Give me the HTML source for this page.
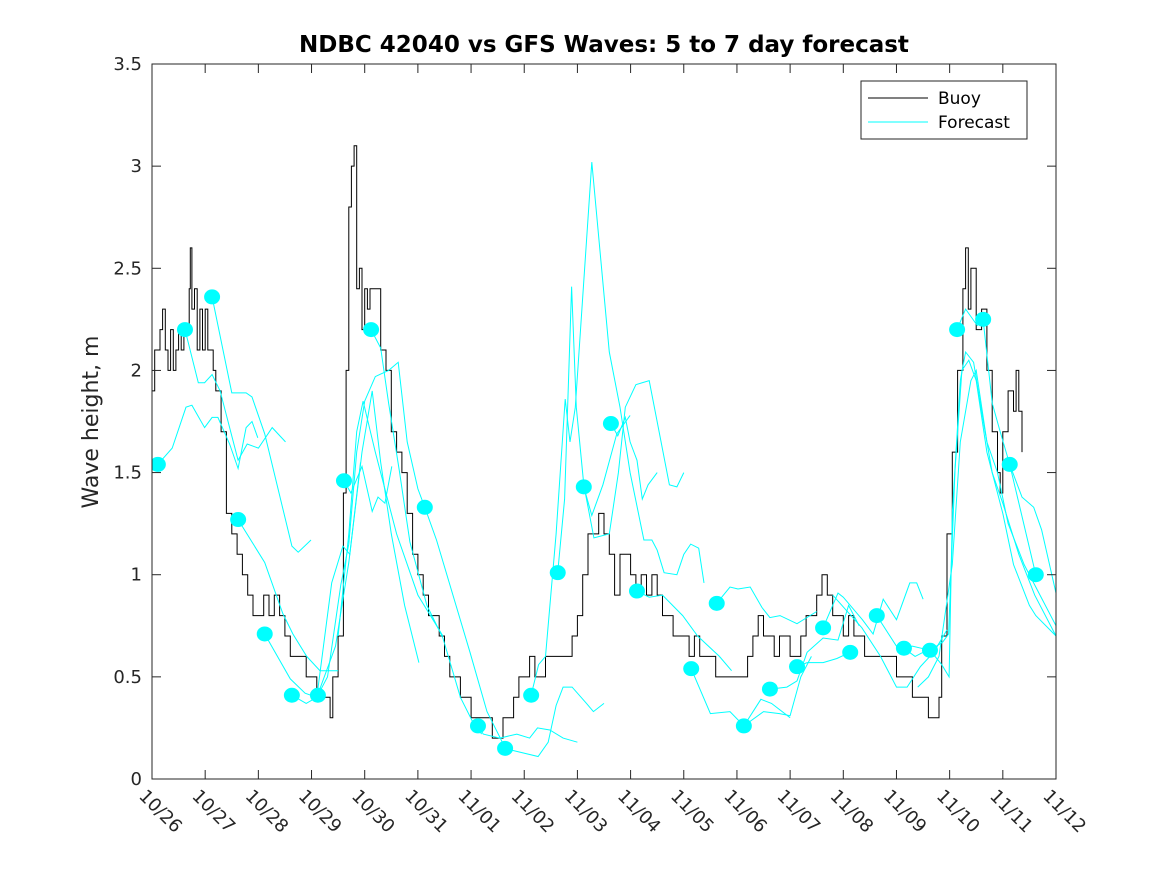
<!DOCTYPE html>
<html><head><meta charset="utf-8">
<style>
html,body{margin:0;padding:0;background:#fff;}
svg{display:block;font-family:"DejaVu Sans","Liberation Sans",sans-serif;}
</style></head>
<body>
<svg id="chart" width="1167" height="875" viewBox="0 0 1167 875"></svg>
<script>
const yTicks=[0,0.5,1,1.5,2,2.5,3,3.5];
const yTickLabels=["0","0.5","1","1.5","2","2.5","3","3.5"];
const xTickLabels=["10/26","10/27","10/28","10/29","10/30","10/31","11/01","11/02","11/03","11/04","11/05","11/06","11/07","11/08","11/09","11/10","11/11","11/12"];
const buoyDays=[0,0.05,0.1,0.15,0.2,0.25,0.3,0.35,0.4,0.45,0.5,0.55,0.6,0.7,0.72,0.75,0.8,0.85,0.9,0.95,1.0,1.05,1.15,1.2,1.3,1.4,1.5,1.6,1.7,1.8,1.9,2.0,2.1,2.2,2.3,2.4,2.5,2.6,2.7,2.8,2.9,3.0,3.1,3.2,3.3,3.35,3.4,3.5,3.6,3.65,3.7,3.75,3.8,3.85,3.9,3.95,4.0,4.05,4.1,4.2,4.3,4.4,4.5,4.6,4.7,4.8,4.9,5.0,5.1,5.2,5.3,5.4,5.5,5.6,5.7,5.8,5.9,6.0,6.2,6.4,6.5,6.6,6.8,6.9,7.0,7.1,7.2,7.3,7.4,7.6,7.8,7.9,8.0,8.1,8.2,8.4,8.5,8.6,8.7,8.8,9.0,9.1,9.2,9.3,9.4,9.5,9.6,9.7,9.8,9.9,10.0,10.1,10.2,10.3,10.4,10.6,10.8,11.0,11.2,11.3,11.4,11.5,11.6,11.7,11.8,11.9,12.0,12.2,12.3,12.4,12.5,12.6,12.7,12.8,13.0,13.1,13.2,13.4,13.6,13.8,14.0,14.2,14.3,14.5,14.6,14.7,14.8,14.85,14.95,15.05,15.15,15.25,15.3,15.35,15.4,15.5,15.6,15.7,15.8,15.9,15.95,16.0,16.1,16.2,16.25,16.3,16.36];
const buoyValues=[1.9,2.1,2.1,2.2,2.3,2.1,2.0,2.2,2.0,2.1,2.2,2.1,2.2,2.4,2.6,2.3,2.4,2.1,2.3,2.1,2.3,2.1,2.0,1.9,1.7,1.3,1.2,1.1,1.0,0.9,0.8,0.8,0.9,0.8,0.9,0.8,0.7,0.6,0.6,0.6,0.5,0.5,0.4,0.4,0.4,0.3,0.5,0.7,1.4,2.0,2.8,3.0,3.1,2.4,2.5,2.2,2.4,2.3,2.4,2.4,2.1,2.0,1.7,1.6,1.5,1.3,1.1,1.0,0.9,0.8,0.8,0.7,0.6,0.5,0.5,0.4,0.4,0.3,0.3,0.2,0.2,0.3,0.4,0.5,0.5,0.6,0.5,0.5,0.6,0.6,0.6,0.7,0.8,1.0,1.2,1.3,1.2,1.1,0.9,1.1,1.0,0.9,1.0,0.9,1.0,0.9,0.8,0.8,0.7,0.7,0.7,0.6,0.7,0.6,0.6,0.5,0.5,0.5,0.6,0.7,0.8,0.7,0.7,0.6,0.7,0.7,0.6,0.7,0.8,0.8,0.9,1.0,0.9,0.8,0.7,0.8,0.7,0.6,0.6,0.6,0.5,0.5,0.4,0.4,0.3,0.3,0.4,0.7,1.2,1.6,2.0,2.4,2.6,2.3,2.5,2.2,2.3,2.0,1.7,1.5,1.4,1.7,1.9,1.8,2.0,1.8,1.6];
const forecastLines=[
[[0.11,1.54],[0.38,1.62],[0.64,1.82],[0.75,1.83],[0.99,1.72],[1.13,1.77],[1.24,1.77],[1.46,1.64],[1.62,1.52],[1.77,1.72],[1.88,1.75],[1.99,1.67]],
[[0.62,2.2],[0.87,1.94],[0.99,1.94],[1.13,1.98],[1.28,1.9],[1.62,1.56],[1.79,1.64],[2.0,1.62],[2.26,1.72],[2.51,1.65]],
[[1.13,2.36],[1.5,1.89],[1.77,1.89],[1.88,1.87],[2.12,1.69],[2.63,1.14],[2.75,1.11],[2.99,1.17]],
[[1.62,1.27],[2.12,1.06],[2.46,0.81],[2.65,0.71],[2.91,0.6],[3.16,0.53],[3.5,0.53]],
[[2.12,0.71],[2.6,0.49],[2.88,0.42],[3.1,0.4],[3.38,0.96],[3.59,1.14],[3.72,1.1],[3.92,1.55]],
[[2.63,0.41],[2.9,0.37],[3.1,0.4],[3.45,0.65],[3.7,1.06],[3.95,1.6],[4.14,1.9],[4.3,1.55],[4.5,1.2],[4.75,0.85],[5.02,0.57]],
[[3.61,1.46],[3.74,1.4],[3.95,1.53],[4.14,1.31],[4.25,1.38],[4.38,1.35],[4.51,1.53]],
[[3.12,0.41],[3.3,0.5],[3.55,0.95],[3.7,1.15],[3.85,1.6],[4.0,1.85],[4.2,1.97],[4.45,2.0],[4.63,2.04],[4.8,1.65],[5.0,1.42],[5.13,1.33]],
[[3.5,0.7],[3.7,1.2],[3.85,1.7],[3.97,1.85],[4.2,1.6],[4.6,1.2],[5.0,0.9],[5.47,0.7]],
[[4.12,2.2],[4.3,2.11],[4.45,1.84],[4.65,1.51],[4.85,1.16],[5.17,0.85],[5.47,0.69],[5.8,0.4],[6.05,0.27],[6.2,0.22]],
[[5.13,1.33],[5.35,1.17],[5.98,0.62],[6.3,0.33],[6.55,0.2],[6.64,0.15]],
[[6.13,0.26],[6.23,0.22],[6.54,0.2],[6.86,0.22],[7.1,0.2],[7.25,0.25],[7.48,0.24],[7.73,0.2],[8.0,0.18]],
[[6.64,0.15],[6.78,0.14],[7.26,0.11],[7.45,0.18],[7.6,0.36],[7.73,0.45],[7.9,0.45],[8.17,0.37],[8.3,0.33],[8.5,0.37]],
[[7.13,0.41],[7.27,0.56],[7.4,0.6],[7.6,1.2],[7.77,1.86],[7.86,1.65],[7.96,1.82],[8.27,3.02],[8.6,2.09],[8.8,1.82],[8.99,1.5],[9.25,1.17],[9.4,1.17],[9.5,1.12],[9.63,1.01],[9.87,1.0],[10.0,1.1],[10.13,1.15],[10.28,1.13],[10.38,0.96]],
[[7.63,1.01],[7.76,1.37],[7.89,2.41],[7.98,1.82],[8.12,1.44],[8.31,1.18],[8.6,1.2],[8.77,1.5],[8.9,1.82],[9.1,1.93],[9.35,1.95],[9.73,1.44],[9.87,1.43],[10.0,1.5]],
[[8.12,1.43],[8.27,1.29],[8.48,1.44],[8.74,1.69],[8.99,1.78]],
[[8.63,1.74],[8.76,1.68],[8.9,1.77],[8.99,1.65],[9.12,1.56],[9.22,1.37],[9.33,1.44],[9.5,1.5]],
[[9.12,0.92],[9.35,0.89],[9.6,0.9],[9.98,0.8],[10.26,0.7],[10.67,0.6],[10.9,0.53]],
[[10.14,0.54],[10.5,0.32],[10.87,0.33],[11.13,0.26]],
[[10.62,0.86],[10.87,0.94],[11.02,0.93],[11.25,0.94],[11.47,0.84],[11.62,0.79],[11.81,0.8],[12.13,0.76],[12.5,0.82]],
[[11.13,0.26],[11.45,0.39],[11.65,0.37],[12.0,0.3]],
[[11.13,0.26],[11.5,0.33],[11.8,0.32],[12.0,0.31],[12.2,0.5],[12.4,0.6]],
[[11.62,0.44],[11.94,0.45],[12.13,0.48],[12.32,0.62],[12.62,0.69],[12.9,0.68],[13.1,0.85],[13.3,0.75]],
[[12.13,0.55],[12.32,0.57],[12.62,0.57],[12.88,0.59],[13.13,0.62]],
[[12.62,0.74],[12.9,0.91],[13.0,0.89],[13.36,0.78],[13.56,0.71],[13.75,0.88],[14.0,0.78],[14.25,0.96],[14.38,0.96],[14.5,0.88]],
[[13.63,0.8],[14.05,0.63],[14.3,0.65],[14.63,0.63]],
[[12.8,0.9],[13.35,0.74],[13.7,0.6],[14.0,0.45],[14.2,0.45],[14.45,0.55],[14.7,0.62],[14.95,0.73]],
[[14.14,0.64],[14.35,0.6],[14.5,0.62],[14.63,0.63],[14.87,0.67],[14.98,0.71],[15.1,1.51],[15.23,2.0],[15.36,2.05],[15.5,1.95],[15.7,1.6],[15.9,1.4],[16.0,1.3],[16.2,1.05],[16.5,0.85],[16.62,0.8],[17.0,0.7]],
[[15.14,2.2],[15.3,2.3],[15.52,2.22],[15.63,2.25],[15.8,1.84],[15.95,1.7],[16.13,1.54],[16.62,1.0]],
[[16.13,1.54],[16.36,1.38],[16.58,1.33],[16.73,1.22],[17.0,0.91]],
[[14.63,0.63],[14.85,0.56],[14.99,0.5],[15.05,1.3],[15.2,1.95],[15.3,2.09],[15.45,2.04],[15.6,1.8],[15.8,1.5],[16.0,1.35],[16.3,1.1],[16.6,0.9],[17.0,0.7]],
[[14.4,0.45],[14.6,0.5],[14.8,0.6],[15.05,1.05],[15.2,1.65],[15.4,1.95],[15.5,2.0],[15.7,1.65],[15.9,1.5],[16.1,1.25],[16.4,1.05],[16.7,0.9],[17.0,0.75]]
];
const dotDays=[0.11,0.62,1.13,1.62,2.12,2.63,3.12,3.61,4.12,5.13,6.13,6.64,7.13,7.63,8.12,8.63,9.12,10.14,10.62,11.13,11.62,12.13,12.62,13.13,13.63,14.14,14.63,15.14,15.63,16.13,16.62];
const dotValues=[1.54,2.2,2.36,1.27,0.71,0.41,0.41,1.46,2.2,1.33,0.26,0.15,0.41,1.01,1.43,1.74,0.92,0.54,0.86,0.26,0.44,0.55,0.74,0.62,0.8,0.64,0.63,2.2,2.25,1.54,1.0];

const NS="http://www.w3.org/2000/svg";
const svg=document.getElementById('chart');
const L=152,R=1056,T=64,B=779;
const xMax=17,yMax=3.5;
function xs(d){return L+(R-L)*d/xMax;}
function ys(v){return B-(B-T)*v/yMax;}
function mk(tag,attrs,parent){const e=document.createElementNS(NS,tag);for(const k in attrs)e.setAttribute(k,attrs[k]);(parent||svg).appendChild(e);return e;}

const clip=mk('clipPath',{id:'pc'});mk('rect',{x:L,y:T,width:R-L,height:B-T},clip);
const plot=mk('g',{'clip-path':'url(#pc)'});



let d='';
for(let i=0;i<buoyDays.length;i++){
  const x=xs(buoyDays[i]).toFixed(1),y=ys(buoyValues[i]).toFixed(1);
  if(i===0)d+='M'+x+' '+y;else d+='H'+x+'V'+y;
}
const bl=mk('path',{d:d,fill:'none',stroke:'#000','stroke-width':1},plot);



forecastLines.forEach((ln,i)=>{
  const p=mk('polyline',{points:ln.map(q=>xs(q[0]).toFixed(1)+','+ys(q[1]).toFixed(1)).join(' '),fill:'none',stroke:'#00ffff','stroke-width':1},plot);
  
  
});
dotDays.forEach((dd,i)=>{
  const c=mk('ellipse',{cx:xs(dd),cy:ys(dotValues[i]),rx:8,ry:7.5,fill:'#00ffff'},plot);
  
  
});

const box=mk('rect',{x:L,y:T,width:R-L,height:B-T,fill:'none',stroke:'#262626','stroke-width':1});



yTicks.forEach((v,i)=>{
  const y=ys(v);
  mk('line',{x1:L,x2:L+9,y1:y,y2:y,stroke:'#262626'});
  mk('line',{x1:R,x2:R-9,y1:y,y2:y,stroke:'#262626'});
  const t=mk('text',{x:L-10,y:y+6,'text-anchor':'end','font-size':18,fill:'#262626'});
  t.textContent=yTickLabels[i];
  
  
});
xTickLabels.forEach((lab,i)=>{
  const x=xs(i);
  mk('line',{x1:x,x2:x,y1:B,y2:B-9,stroke:'#262626'});
  mk('line',{x1:x,x2:x,y1:T,y2:T+9,stroke:'#262626'});
  const t=mk('text',{x:x-14,y:B+18,'font-size':18,fill:'#262626',transform:'rotate(45 '+(x-14)+' '+(B+18)+')'});
  t.textContent=lab;
  
  
});

function add(tag,attrs,txt){const e=mk(tag,attrs);if(txt)e.textContent=txt;return e;}
const title=add('text',{x:604,y:52,'text-anchor':'middle','font-size':23,'font-weight':'bold',fill:'#000'},'NDBC 42040 vs GFS Waves: 5 to 7 day forecast');


const yl=add('text',{x:0,y:0,'text-anchor':'middle','font-size':22,fill:'#262626',transform:'translate(98 422) rotate(-90)'},'Wave height, m');


const lg=add('rect',{x:861,y:81,width:166,height:58,fill:'#fff',stroke:'#262626','stroke-width':1});


add('line',{x1:868,x2:928,y1:98,y2:98,stroke:'#000'});
add('line',{x1:868,x2:928,y1:122,y2:122,stroke:'#00ffff'});
const l1=add('text',{x:938,y:104,'font-size':17,fill:'#000'},'Buoy');


const l2=add('text',{x:938,y:128,'font-size':17,fill:'#000'},'Forecast');


</script>
</body></html>
